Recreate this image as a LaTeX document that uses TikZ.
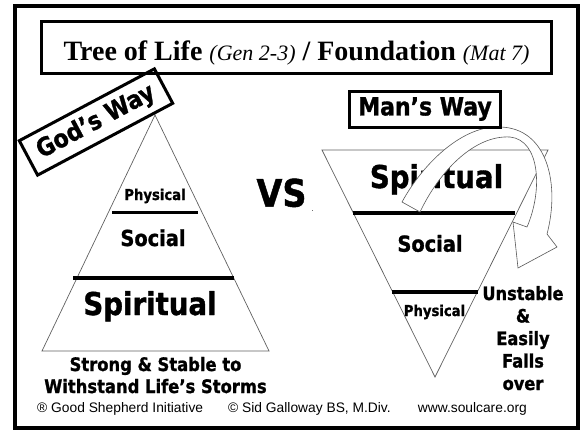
\documentclass[tikz,border=0pt]{standalone}
\usepackage{fontspec}
\setmainfont{Liberation Serif}
\newfontfamily\wayfont{DejaVu Sans}[FakeStretch=0.88, BoldFeatures={FakeBold=1.2}]
\newfontfamily\notefont{Liberation Sans}
\usepackage{tikz}
\usetikzlibrary{calc}
\tikzset{
    outerframe/.style={draw=black, line width=4pt},
    titlebox/.style={draw=black, line width=3pt, inner sep=0pt, font=\fontsize{28}{32}\selectfont},
    waybox/.style={draw=black, line width=3pt, inner sep=0pt, font=\wayfont\bfseries\fontsize{25}{28}\selectfont},
    layer/.style={anchor=base, inner sep=0pt},
    level/.style={line width=3.5pt},
    pyramid/.style={draw=gray!75!black, line width=0.7pt},
    fallarrow/.style={draw=gray!70!black, fill=white, line width=0.6pt},
    note/.style={anchor=base west, inner sep=0pt, font=\notefont\fontsize{13.8}{16}\selectfont}
}
\newcommand{\wsize}[1]{\wayfont\bfseries\fontsize{#1}{#1}\selectfont}

\begin{document}
\begin{tikzpicture}[x=1pt, y=-1pt]
    \useasboundingbox (0,0) rectangle (588,431);
    \draw[outerframe] (15,5.5) rectangle (578,427.5);
    \node[titlebox, minimum width=510pt, minimum height=52.5pt, text height=26.5pt, text depth=0pt] (title) at (296.5,47.25)
        {\bfseries Tree of Life {\mdseries\itshape\fontsize{22}{24}\selectfont(Gen 2-3)} / Foundation {\mdseries\itshape\fontsize{22}{24}\selectfont(Mat 7)}};

    % God's way: upright pyramid
    \draw[pyramid] (155,115) -- (269,351) -- (42,351) -- cycle;
    \draw[level] (112,212.7) -- (198,212.7);
    \draw[level] (73,278) -- (234,278);
    \node[layer, font=\wsize{15}] (gphys) at (155,200) {Physical};
    \node[layer, font=\wsize{22}] (gsoc) at (153,246) {Social};
    \node[layer, font=\wsize{31.4}] (gspir) at (150,315) {Spiritual};
    \node[waybox, rotate=28, minimum width=153pt, minimum height=39pt] (gods) at (96,122) {God’s Way};
    \node[layer, font=\wsize{18.6}] (strong) at (155.5,371) {Strong \& Stable to};
    \node[layer, font=\wsize{18.6}] (storms) at (155.5,393) {Withstand Life’s Storms};

    \node[layer, font=\wsize{38}] (vs) at (281.5,206.7) {VS};
    \node[layer, font=\wayfont\fontsize{7}{8}\selectfont] (vsdot) at (312.5,211) {.};

    % Man's way: pyramid on its tip
    \draw[pyramid] (322,150) -- (548,150) -- (435,377) -- cycle;
    \draw[level] (353,213) -- (515,213);
    \draw[level] (392,292) -- (478,292);
    \node[layer, font=\wsize{31.4}] (mspir) at (436.5,188) {Spiritual};
    \node[layer, font=\wsize{22}] (msoc) at (430,251.7) {Social};
    \node[layer, font=\wsize{15}] (mphys) at (434.5,316) {Physical};
    \draw[fallarrow] (402,202) .. controls (425,160) and (465,125) .. (500,127)
        .. controls (548,128) and (560,185) .. (547,234)
        -- (557,247) -- (518,268) -- (513,222) -- (527,227)
        .. controls (543,190) and (540,140) .. (510,137)
        .. controls (475,135) and (440,170) .. (420,212) -- cycle; % tipping over
    \node[waybox, minimum width=151pt, minimum height=36pt] (mans) at (425,109) {Man’s Way};
    \foreach \txt [count=\i] in {Unstable,\&,Easily,Falls,over}
        \node[layer, font=\wsize{18.4}] (fall\i) at (523,{300+(\i-1)*22.5}) {\txt};

    \node[note] (ghost) at (37,412.7) {® Good Shepherd Initiative};
    \node[note] (author) at (228,412.7) {© Sid Galloway BS, M.Div.};
    \node[note, anchor=base east] (site) at (527,412.7) {www.soulcare.org};
\end{tikzpicture}
\end{document}
